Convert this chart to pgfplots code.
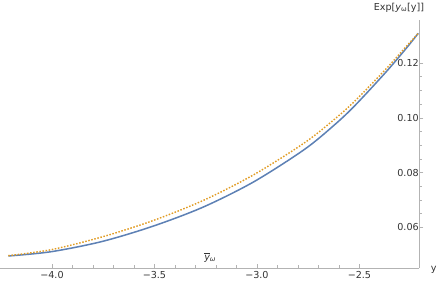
\documentclass[border=0pt]{standalone}
\usepackage{pgfplots}
\pgfplotsset{compat=1.18}
\usepackage{fontspec}
\setmainfont{DejaVu Sans}
\definecolor{mblue}{HTML}{5E81B5}
\definecolor{morange}{HTML}{E19C24}
\definecolor{axgray}{HTML}{B3B3B3}
\definecolor{lblgray}{HTML}{333333}
\begin{document}
\begin{tikzpicture}
\begin{axis}[
  scale only axis,
  width=413bp, height=244bp,
  xmin=-4.252, xmax=-2.208,
  ymin=0.0452, ymax=0.1356,
  axis x line=bottom, axis y line=right,
  axis line style={axgray, -, line width=0.6pt},
  xtick={-4,-3.5,-3,-2.5},
  xticklabels={−4.0,−3.5,−3.0,−2.5},
  minor x tick num=4,
  ytick={0.06,0.08,0.10,0.12},
  yticklabels={0.06,0.08,0.10,0.12},
  minor y tick num=3,
  xtick align=inside, ytick align=outside,
  major tick length=4bp, minor tick length=2.5bp,
  tick style={axgray, line width=0.5pt},
  every tick label/.append style={font=\fontsize{9.5}{11}\selectfont, text=lblgray},
  yticklabel style={anchor=east, xshift=-1bp},
  clip=false,
]
\addplot[mblue, line width=1.5pt, smooth] coordinates {
(-4.2129,0.04952) (-4.0050,0.05107) (-3.7574,0.05478) (-3.5099,0.06033)
(-3.2624,0.06737) (-3.0149,0.07663) (-2.7673,0.08848) (-2.6188,0.09759)
(-2.5198,0.10463) (-2.3713,0.11663) (-2.2723,0.12530) (-2.2129,0.13085)
};
\addplot[morange, line width=1.4pt, dash pattern=on 1.5pt off 1.6pt, smooth] coordinates {
(-4.2129,0.04963) (-4.0050,0.05181) (-3.7574,0.05644) (-3.5099,0.06237)
(-3.2624,0.06978) (-3.0149,0.07922) (-2.7673,0.09089) (-2.6188,0.09963)
(-2.5198,0.10630) (-2.3713,0.11774) (-2.2723,0.12596) (-2.2129,0.13085)
};
\node[font=\fontsize{9.5}{11}\selectfont, text=lblgray] at (axis cs:-3.228,0.0489) {$\overline{\mathit{y}}$\textsubscript{\itshape ω}};
\node[font=\fontsize{9.5}{11}\selectfont, text=lblgray, anchor=west] at ([xshift=8bp,yshift=-2bp]rel axis cs:1,0) {y};
\node[font=\fontsize{9.5}{11}\selectfont, text=lblgray, anchor=south] at ([xshift=-20bp,yshift=4bp]rel axis cs:1,1) {Exp[{\itshape y}\textsubscript{ω}[y]]};
\end{axis}
\end{tikzpicture}
\end{document}
